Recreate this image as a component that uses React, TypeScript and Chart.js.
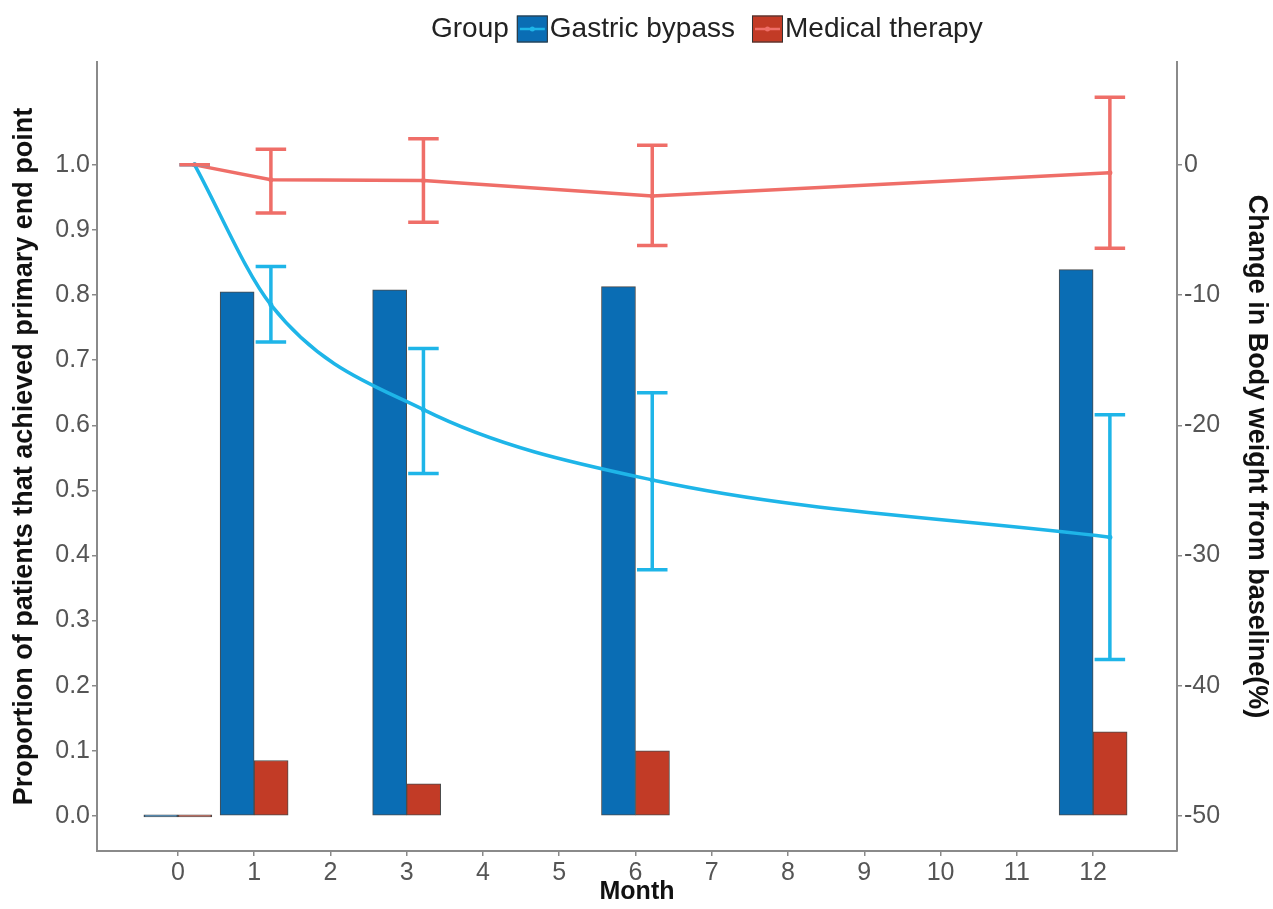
import React, { useEffect, useRef } from "react";
import { Chart, registerables } from "chart.js";

Chart.register(...registerables);

// ---------------- data ----------------
const groupNames = ["Gastric bypass", "Medical therapy"];
const months = [0, 1, 3, 6, 12];
const monthTicks = [0, 1, 2, 3, 4, 5, 6, 7, 8, 9, 10, 11, 12];
const proportionTicks = [0, 0.1, 0.2, 0.3, 0.4, 0.5, 0.6, 0.7, 0.8, 0.9, 1.0];
const weightTicks = [0, -10, -20, -30, -40, -50];

// proportion of patients reaching primary end point (bars, left axis)
const gastricProportion = [0, 0.805, 0.808, 0.813, 0.839];
const medicalProportion = [0, 0.085, 0.049, 0.1, 0.129];

// change in body weight from baseline, % (lines, right axis)
const gastricWeight = [0, -10.75, -18.8, -24.2, -28.6];
const gastricLower = [0, -13.6, -23.7, -31.1, -38.0];
const gastricUpper = [0, -7.8, -14.1, -17.5, -19.2];
const medicalWeight = [0, -1.15, -1.2, -2.4, -0.6];
const medicalLower = [0, -3.7, -4.4, -6.2, -6.4];
const medicalUpper = [0, 1.2, 2.0, 1.5, 5.2];

// ---------------- style ----------------
const FONT = "'Liberation Sans', Arial, sans-serif";
const BLUE_BAR = "#0a6db4";
const RED_BAR = "#c23b26";
const BLUE_LINE = "#1eb5e8";
const RED_LINE = "#ef6e68";
const AXIS = "#8a8a8a";
const TICK_TEXT = "#555555";
const LINE_DODGE = 0.22;
const CAP_HALF = 0.2;

const errorSeries = [
  { mid: gastricWeight, lower: gastricLower, upper: gastricUpper, color: BLUE_LINE },
  { mid: medicalWeight, lower: medicalLower, upper: medicalUpper, color: RED_LINE },
];

const errorBarPlugin = {
  id: "errorBars",
  afterDatasetsDraw(chart: any) {
    const { ctx, scales } = chart;
    const xs = scales.x;
    const ys = scales.y2;
    ctx.save();
    ctx.lineWidth = 3.5;
    ctx.lineCap = "butt";
    errorSeries.forEach((s) => {
      ctx.strokeStyle = s.color;
      months.forEach((m, i) => {
        const xc = xs.getPixelForValue(m + LINE_DODGE);
        const xl = xs.getPixelForValue(m + LINE_DODGE - CAP_HALF);
        const xr = xs.getPixelForValue(m + LINE_DODGE + CAP_HALF);
        const yl = ys.getPixelForValue(s.lower[i]);
        const yu = ys.getPixelForValue(s.upper[i]);
        ctx.beginPath();
        ctx.moveTo(xc, yl);
        ctx.lineTo(xc, yu);
        ctx.moveTo(xl, yl);
        ctx.lineTo(xr, yl);
        ctx.moveTo(xl, yu);
        ctx.lineTo(xr, yu);
        ctx.stroke();
      });
    });
    ctx.restore();
  },
};

const legendPlugin = {
  id: "groupLegend",
  afterDraw(chart: any) {
    const ctx = chart.ctx;
    ctx.save();
    ctx.font = `28px ${FONT}`;
    ctx.textBaseline = "middle";
    ctx.textAlign = "left";
    ctx.fillStyle = "#222";
    const cy = 29;
    let x = 431;
    ctx.fillText("Group", x, cy);
    x += ctx.measureText("Group").width + 8;
    const keys = [
      { fill: BLUE_BAR, line: BLUE_LINE },
      { fill: RED_BAR, line: RED_LINE },
    ];
    groupNames.forEach((name, i) => {
      const k = keys[i];
      const bw = 31;
      const bh = 27;
      ctx.fillStyle = k.fill;
      ctx.fillRect(x, cy - bh / 2, bw, bh);
      ctx.strokeStyle = "#333";
      ctx.lineWidth = 1;
      ctx.strokeRect(x + 0.5, cy - bh / 2 + 0.5, bw - 1, bh - 1);
      ctx.strokeStyle = k.line;
      ctx.lineWidth = 2.5;
      ctx.beginPath();
      ctx.moveTo(x + 3, cy);
      ctx.lineTo(x + bw - 3, cy);
      ctx.stroke();
      ctx.fillStyle = k.line;
      ctx.beginPath();
      ctx.arc(x + bw / 2, cy, 2.5, 0, Math.PI * 2);
      ctx.fill();
      x += bw + 2;
      ctx.fillStyle = "#222";
      ctx.fillText(name, x, cy);
      x += ctx.measureText(name).width + 17;
    });
    ctx.restore();
  },
};

const tickFont = { family: FONT, size: 25 };
const titleFont = { family: FONT, size: 27, weight: "bold" as const };

export default function App() {
  const ref = useRef<HTMLCanvasElement | null>(null);

  useEffect(() => {
    if (!ref.current) return;
    const chart = new Chart(ref.current, {
      type: "bar",
      data: {
        datasets: [
          {
            type: "line",
            label: groupNames[0],
            data: months.map((m, i) => ({ x: m + LINE_DODGE, y: gastricWeight[i] })),
            yAxisID: "y2",
            borderColor: BLUE_LINE,
            backgroundColor: BLUE_LINE,
            borderWidth: 3.5,
            pointRadius: 2.5,
            pointBorderWidth: 0,
            cubicInterpolationMode: "monotone",
            order: 0,
          } as any,
          {
            type: "line",
            label: groupNames[1],
            data: months.map((m, i) => ({ x: m + LINE_DODGE, y: medicalWeight[i] })),
            yAxisID: "y2",
            borderColor: RED_LINE,
            backgroundColor: RED_LINE,
            borderWidth: 3.5,
            pointRadius: 2.5,
            pointBorderWidth: 0,
            tension: 0,
            order: 1,
          } as any,
          {
            type: "bar",
            label: groupNames[0],
            data: months.map((m, i) => ({ x: m, y: gastricProportion[i] })),
            yAxisID: "y",
            backgroundColor: BLUE_BAR,
            borderColor: "#4a4a4a",
            borderWidth: 1,
            borderSkipped: false,
            minBarLength: 2,
            barThickness: 34,
            order: 3,
          } as any,
          {
            type: "bar",
            label: groupNames[1],
            data: months.map((m, i) => ({ x: m, y: medicalProportion[i] })),
            yAxisID: "y",
            backgroundColor: RED_BAR,
            borderColor: "#4a4a4a",
            borderWidth: 1,
            borderSkipped: false,
            minBarLength: 2,
            barThickness: 34,
            order: 4,
          } as any,
        ],
      },
      options: {
        animation: false,
        responsive: false,
        devicePixelRatio: 1,
        layout: { padding: { top: 62, left: 0, right: 0, bottom: 0 } },
        plugins: {
          legend: { display: false },
          tooltip: { enabled: false },
        },
        scales: {
          x: {
            type: "linear",
            offset: false,
            min: -1.06,
            max: 13.1,
            afterBuildTicks: (s: any) => {
              s.ticks = monthTicks.map((v) => ({ value: v }));
            },
            afterFit: (s: any) => {
              s.height = 58;
            },
            ticks: {
              autoSkip: false,
              maxRotation: 0,
              font: tickFont,
              color: TICK_TEXT,
              padding: 2,
              callback: (v: any) => String(v),
            },
            grid: {
              display: true,
              offset: false,
              drawOnChartArea: false,
              drawTicks: true,
              tickLength: 5,
              color: AXIS,
              lineWidth: 1.5,
            },
            border: { display: true, color: AXIS, width: 2 },
            title: {
              display: true,
              text: "Month",
              font: { family: FONT, size: 25, weight: "bold" },
              color: "#111",
              padding: { top: 0, bottom: 2 },
            },
          },
          y: {
            type: "linear",
            position: "left",
            min: -0.054,
            max: 1.158,
            afterBuildTicks: (s: any) => {
              s.ticks = proportionTicks.map((v) => ({ value: v }));
            },
            afterFit: (s: any) => {
              s.width = 97;
            },
            ticks: {
              autoSkip: false,
              font: tickFont,
              color: TICK_TEXT,
              padding: 2,
              callback: (v: any) => Number(v).toFixed(1),
            },
            grid: {
              display: true,
              drawOnChartArea: false,
              drawTicks: true,
              tickLength: 5,
              color: AXIS,
              lineWidth: 1.5,
            },
            border: { display: true, color: AXIS, width: 2 },
            title: {
              display: true,
              text: "Proportion of patients that achieved primary end point",
              font: titleFont,
              color: "#111",
              padding: { top: 8, bottom: 0 },
            },
          },
          y2: {
            type: "linear",
            position: "right",
            min: -52.7,
            max: 7.9,
            afterBuildTicks: (s: any) => {
              s.ticks = weightTicks.map((v) => ({ value: v }));
            },
            afterFit: (s: any) => {
              s.width = 96;
            },
            ticks: {
              autoSkip: false,
              font: tickFont,
              color: TICK_TEXT,
              padding: 2,
              callback: (v: any) => String(v),
            },
            grid: {
              display: true,
              drawOnChartArea: false,
              drawTicks: true,
              tickLength: 5,
              color: AXIS,
              lineWidth: 1.5,
            },
            border: { display: true, color: AXIS, width: 2 },
            title: {
              display: true,
              text: "Change in Body weight from baseline(%)",
              font: titleFont,
              color: "#111",
              padding: { top: 0, bottom: 0 },
            },
          },
        },
      } as any,
      plugins: [errorBarPlugin, legendPlugin],
    });
    return () => chart.destroy();
  }, []);

  return (
    <canvas
      ref={ref}
      width={1273}
      height={909}
      style={{ position: "fixed", left: 0, top: 0, width: 1273, height: 909, background: "#fff" }}
    />
  );
}
